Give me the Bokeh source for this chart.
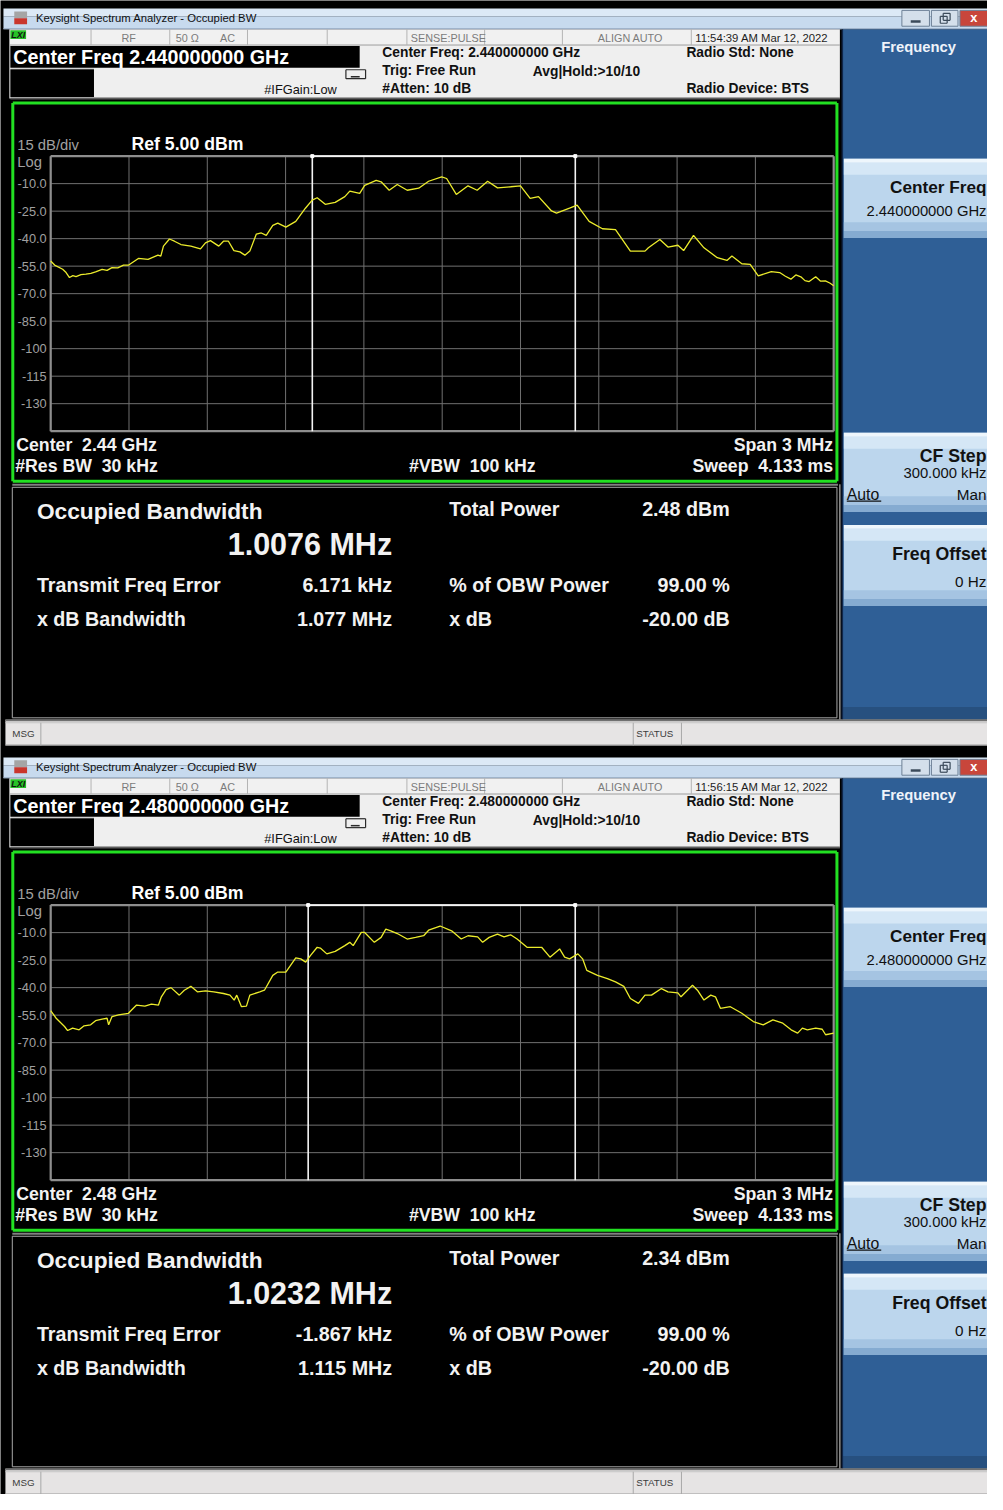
from bokeh.plotting import figure
from bokeh.models import Range1d, ColumnDataSource
from bokeh.core.properties import value, field
from bokeh.embed import file_html
from bokeh.resources import INLINE

# ------------------------------------------------------------------ data
center_freq_ghz = ["2.440000000", "2.480000000"]
center_short = ["2.44", "2.48"]
timestamps = ["11:54:39 AM Mar 12, 2022", "11:56:15 AM Mar 12, 2022"]
occupied_bw_text = ["1.0076", "1.0232"]
occupied_bw_mhz = [1.0076, 1.0232]
freq_error_khz = [6.171, -1.867]
xdb_bandwidth_mhz = ["1.077", "1.115"]
total_power_dbm = ["2.48", "2.34"]
obw_power_pct = "99.00"
x_db_value = "-20.00"
ref_level_dbm = 5.0
db_per_div = 15.0
span_mhz = 3.0
res_bw = "30 kHz"
vbw = "100 kHz"
sweep_time = "4.133 ms"
atten = "10 dB"
cf_step = "300.000 kHz"
freq_offset = "0 Hz"

amp_tick_values = [-10.0, -25.0, -40.0, -55.0, -70.0, -85.0, -100.0, -115.0, -130.0]
amp_tick_labels = ["-10.0", "-25.0", "-40.0", "-55.0", "-70.0", "-85.0", "-100", "-115", "-130"]
grid_db = [5.0, -10.0, -25.0, -40.0, -55.0, -70.0, -85.0, -100.0, -115.0, -130.0, -145.0]
grid_mhz = [-1.5, -1.2, -0.9, -0.6, -0.3, 0.0, 0.3, 0.6, 0.9, 1.2, 1.5]

# trace 1 (2.44 GHz): frequency offset from center [MHz], level [dBm]
freq1 = [-1.500, -1.485, -1.454, -1.441, -1.428, -1.415, -1.403, -1.384, -1.365, -1.346,
         -1.328, -1.303, -1.284, -1.265, -1.243, -1.221, -1.201, -1.164, -1.127, -1.089,
         -1.078, -1.068, -1.045, -1.026, -1.001, -0.963, -0.926, -0.907, -0.888, -0.856,
         -0.838, -0.819, -0.798, -0.775, -0.756, -0.737, -0.712, -0.693, -0.674, -0.649,
         -0.630, -0.599, -0.561, -0.524, -0.498, -0.479, -0.448, -0.410, -0.373, -0.354,
         -0.316, -0.297, -0.253, -0.234, -0.203, -0.172, -0.134, -0.090, -0.052, -0.002,
         0.017, 0.054, 0.099, 0.134, 0.174, 0.212, 0.262, 0.300, 0.337, 0.369,
         0.419, 0.438, 0.488, 0.517, 0.563, 0.614, 0.664, 0.721, 0.777, 0.790,
         0.834, 0.865, 0.903, 0.925, 0.963, 1.003, 1.054, 1.091, 1.110, 1.148,
         1.180, 1.211, 1.261, 1.293, 1.315, 1.336, 1.355, 1.374, 1.390, 1.406,
         1.431, 1.450, 1.468, 1.485, 1.500]
dbm1 = [-52.2, -54.4, -56.7, -58.5, -61.2, -60.2, -60.7, -59.6, -59.4, -58.9,
        -58.1, -56.7, -57.3, -55.8, -55.9, -54.4, -54.4, -50.8, -51.3, -49.0,
        -49.5, -44.1, -40.2, -41.4, -43.2, -44.1, -45.6, -42.3, -41.1, -44.1,
        -41.4, -41.4, -46.5, -47.2, -49.0, -46.8, -37.5, -36.9, -38.2, -32.8,
        -31.5, -33.7, -30.6, -23.4, -19.0, -17.7, -21.3, -20.2, -17.1, -14.1,
        -15.3, -10.9, -8.2, -9.0, -13.6, -10.5, -13.6, -12.5, -8.7, -6.3,
        -7.2, -15.9, -11.2, -13.6, -8.7, -12.3, -11.7, -11.2, -18.0, -17.1,
        -24.9, -26.1, -23.4, -21.7, -30.6, -34.6, -35.1, -46.8, -46.8, -45.0,
        -40.5, -44.6, -43.6, -46.5, -38.2, -45.0, -50.4, -51.9, -49.5, -53.7,
        -54.0, -60.3, -58.0, -58.5, -60.5, -62.1, -59.8, -60.8, -62.9, -63.4,
        -60.8, -63.2, -63.0, -64.2, -65.7]

# trace 2 (2.48 GHz)
freq2 = [-1.500, -1.479, -1.447, -1.435, -1.416, -1.391, -1.372, -1.347, -1.328, -1.303,
         -1.284, -1.278, -1.265, -1.240, -1.202, -1.190, -1.171, -1.139, -1.114, -1.087,
         -1.076, -1.058, -1.039, -1.007, -0.988, -0.963, -0.938, -0.907, -0.875, -0.838,
         -0.813, -0.797, -0.787, -0.769, -0.750, -0.737, -0.699, -0.681, -0.649, -0.630,
         -0.599, -0.561, -0.542, -0.523, -0.505, -0.479, -0.467, -0.442, -0.410, -0.373,
         -0.354, -0.341, -0.310, -0.297, -0.260, -0.234, -0.216, -0.197, -0.172, -0.134,
         -0.102, -0.071, -0.052, -0.008, 0.036, 0.073, 0.099, 0.136, 0.155, 0.180,
         0.212, 0.237, 0.262, 0.287, 0.325, 0.381, 0.413, 0.450, 0.469, 0.488,
         0.520, 0.538, 0.554, 0.595, 0.633, 0.664, 0.696, 0.721, 0.752, 0.777,
         0.802, 0.840, 0.865, 0.903, 0.915, 0.959, 0.978, 1.003, 1.029, 1.047,
         1.066, 1.104, 1.148, 1.192, 1.230, 1.267, 1.305, 1.337, 1.362, 1.380,
         1.399, 1.431, 1.456, 1.469, 1.500]
dbm2 = [-52.6, -56.7, -61.2, -63.4, -62.1, -63.0, -60.8, -60.3, -58.0, -57.2,
        -56.7, -60.3, -55.8, -54.9, -54.0, -52.2, -49.5, -50.1, -49.0, -49.5,
        -45.0, -41.1, -40.0, -44.1, -41.4, -39.3, -42.3, -41.8, -42.3, -43.2,
        -44.1, -46.8, -44.1, -50.4, -50.1, -44.1, -42.3, -41.4, -33.3, -31.5,
        -31.5, -23.8, -24.3, -26.1, -22.5, -18.0, -18.4, -21.6, -20.2, -17.1,
        -15.3, -17.1, -9.9, -9.9, -15.3, -12.6, -8.1, -9.0, -10.5, -13.5,
        -12.6, -11.7, -8.7, -6.4, -9.0, -13.5, -11.7, -12.3, -15.3, -12.6,
        -10.8, -12.3, -11.2, -13.5, -18.0, -18.0, -23.4, -18.9, -23.4, -24.3,
        -21.6, -24.3, -30.6, -33.3, -35.1, -36.9, -39.3, -45.9, -48.6, -44.1,
        -44.1, -40.5, -42.3, -42.9, -45.0, -38.7, -41.4, -46.8, -44.1, -45.0,
        -51.3, -50.4, -54.0, -58.5, -60.3, -57.6, -59.4, -63.0, -64.8, -62.1,
        -63.0, -62.1, -62.7, -65.7, -64.8]

traces = [(freq1, dbm1), (freq2, dbm2)]

# ------------------------------------------------------------------ layout (screen pixels of the screenshots)
PX0, PX1, PY0, PY1 = 0, 1003, 0, 1510
W, H = 987, 1494
FS = 0.985                                  # font scale for the slightly smaller canvas
GX0, GX1, GY0, GY1 = 51.0, 846.7, 157.3, 435.3   # graticule of the first screen
DY = 757                                   # second screenshot offset
FONT = value("Liberation Sans")
NB = "\u00a0"

p = figure(width=W, height=H,
           x_range=Range1d(PX0, PX1), y_range=Range1d(PY1, PY0),
           output_backend="svg", toolbar_location=None, min_border=0,
           x_axis_location=None, y_axis_location=None)
p.grid.visible = False
p.outline_line_color = None
p.background_fill_color = "#000000"
p.border_fill_color = "#000000"

px_per_mhz = (GX1 - GX0) / span_mhz
px_per_db = (GY1 - GY0) / (10 * db_per_div)
p.extra_x_ranges = {"f": Range1d(-span_mhz / 2 - (GX0 - PX0) / px_per_mhz,
                                 span_mhz / 2 + (PX1 - GX1) / px_per_mhz)}
yr = {}
for k in range(2):
    top = GY0 + k * DY
    yr[f"db{k}"] = Range1d(ref_level_dbm - (PY1 - top) / px_per_db,
                           ref_level_dbm + (top - PY0) / px_per_db)
p.extra_y_ranges = yr

Q = dict(l=[], r=[], t=[], b=[], c=[])
S = dict(x0=[], y0=[], x1=[], y1=[], c=[], w=[])
T = dict(x=[], y=[], t=[], size=[], style=[], color=[], align=[])


def box(l, r, t, b, c):
    Q["l"].append(l); Q["r"].append(r); Q["t"].append(t); Q["b"].append(b); Q["c"].append(c)


def seg(x0, y0, x1, y1, c, w=1.0):
    S["x0"].append(x0); S["y0"].append(y0); S["x1"].append(x1); S["y1"].append(y1)
    S["c"].append(c); S["w"].append(w)


def outline(l, r, t, b, c, w=1.0):
    seg(l, t, r, t, c, w); seg(l, b, r, b, c, w); seg(l, t, l, b, c, w); seg(r, t, r, b, c, w)


def txt(x, y, s, size, style="normal", color="#f2f2f2", align="left"):
    T["x"].append(x); T["y"].append(y); T["t"].append(s)
    T["size"].append(f"{size * FS:.1f}px")
    T["style"].append(style); T["color"].append(color); T["align"].append(align)


def chrome(k):
    d = k * DY
    # window title bar
    box(3, 1003, 8 + d, 16 + d, "#dce9f6")
    box(3, 1003, 16 + d, 29 + d, "#c7daee")
    seg(3, 28.5 + d, 1003, 28.5 + d, "#97abc2", 1)
    box(14, 27, 11 + d, 18 + d, "#a5a5a5")
    box(14, 27, 18 + d, 24 + d, "#c9362c")
    txt(36, 17.5 + d, "Keysight Spectrum Analyzer - Occupied BW", 11.5, color="#111111")
    for (l, r, c) in [(916, 944, "#d4dfeb"), (946, 973, "#d4dfeb"), (975, 1003, "#c8463b")]:
        box(l, r, 10 + d, 26 + d, c)
        outline(l, r, 10 + d, 26 + d, "#6d8096", 1)
    box(925, 935, 20 + d, 22.5 + d, "#3b4a5a")
    outline(955, 962, 16 + d, 23 + d, "#3b4a5a", 1.2)
    outline(958, 965, 13 + d, 20 + d, "#3b4a5a", 1.2)
    txt(989, 17.5 + d, "x", 13, "bold", "#ffffff", "center")

    # annunciator row
    box(9, 853, 29 + d, 45 + d, "#f1f1f1")
    seg(9, 45 + d, 853, 45 + d, "#9d9d9d", 1)
    for x in (92, 172, 251, 332, 413, 492, 571, 702):
        seg(x, 29 + d, x, 45 + d, "#b4b4b4", 1)
    box(10, 26, 30 + d, 39 + d, "#27c227")
    txt(11, 35 + d, "LXI", 9, "bold italic", "#111111")
    for x, s in [(123, "RF"), (178, "50 Ω"), (223, "AC"), (417, "SENSE:PULSE"), (607, "ALIGN AUTO")]:
        txt(x, 37.5 + d, s, 11, color="#7b7b7b")
    txt(706, 37.5 + d, timestamps[k], 11.5, color="#1e1e1e")

    # settings header
    box(9, 853, 45 + d, 99 + d, "#efefef")
    box(10, 365, 46 + d, 68 + d, "#000000")
    box(10, 95, 69.5 + d, 97.5 + d, "#000000")
    seg(10, 68.8 + d, 95, 68.8 + d, "#d0d0d0", 1)
    seg(10, 99 + d, 853, 99 + d, "#5c5c5c", 2)
    outline(351, 371, 70 + d, 79 + d, "#2a2a2a", 1.2)
    seg(356, 77 + d, 365, 77 + d, "#2a2a2a", 1.5)
    txt(13, 57.5 + d, f"Center Freq {center_freq_ghz[k]} GHz", 20, "bold", "#ffffff")
    txt(388, 53 + d, f"Center Freq: {center_freq_ghz[k]} GHz", 14, "bold", "#111111")
    txt(697, 53 + d, "Radio Std: None", 14, "bold", "#111111")
    txt(388, 71 + d, "Trig: Free Run", 14, "bold", "#111111")
    txt(541, 71.5 + d, "Avg|Hold:>10/10", 14, "bold", "#111111")
    txt(388, 88.5 + d, f"#Atten: {atten}", 14, "bold", "#111111")
    txt(697, 88.5 + d, "Radio Device: BTS", 14, "bold", "#111111")
    txt(268, 90 + d, "#IFGain:Low", 13, "normal", "#111111")

    # graph frame and annotations
    outline(12.5, 850, 103.5 + d, 486 + d, "#22e022", 3)
    txt(17, 146.5 + d, "15 dB/div", 15, color="#a0a0a0")
    txt(133, 145.5 + d, f"Ref {ref_level_dbm:.2f} dBm", 18, "bold", "#ffffff")
    txt(17, 163 + d, "Log", 15, color="#a0a0a0")
    txt(16, 449.5 + d, f"Center{NB}{NB}{center_short[k]} GHz", 18, "bold")
    txt(15, 470.5 + d, f"#Res BW{NB}{NB}{res_bw}", 18, "bold")
    txt(415, 470.5 + d, f"#VBW{NB}{NB}{vbw}", 18, "bold")
    txt(846, 449.5 + d, f"Span {span_mhz:g} MHz", 18, "bold", align="right")
    txt(846, 470.5 + d, f"Sweep{NB}{NB}{sweep_time}", 18, "bold", align="right")

    # result panel
    seg(12, 489.5 + d, 851, 489.5 + d, "#808080", 2)
    outline(12, 850, 492 + d, 725 + d, "#a8a8a8", 1)
    seg(853, 489 + d, 853, 727 + d, "#d8d8d8", 1)
    txt(37, 516 + d, "Occupied Bandwidth", 23, "bold")
    txt(398, 549.5 + d, f"{occupied_bw_text[k]} MHz", 31, "bold", align="right")
    txt(37, 591 + d, "Transmit Freq Error", 20, "bold")
    txt(398, 591 + d, f"{freq_error_khz[k]:.3f} kHz", 20, "bold", align="right")
    txt(37, 625.5 + d, "x dB Bandwidth", 20, "bold")
    txt(398, 625.5 + d, f"{xdb_bandwidth_mhz[k]} MHz", 20, "bold", align="right")
    txt(456, 514 + d, "Total Power", 20, "bold")
    txt(741, 514 + d, f"{total_power_dbm[k]} dBm", 20, "bold", align="right")
    txt(456, 591 + d, "% of OBW Power", 20, "bold")
    txt(741, 591 + d, f"{obw_power_pct} %", 20, "bold", align="right")
    txt(456, 625.5 + d, "x dB", 20, "bold")
    txt(741, 625.5 + d, f"{x_db_value} dB", 20, "bold", align="right")

    # softkey panel
    box(856, 1003, 29 + d, 727 + d, "#2f5f96")
    box(856, 1003, 714 + d, 727 + d, "#27507f")
    seg(855.5, 29 + d, 855.5, 727 + d, "#10264a", 1.5)
    txt(933, 46.5 + d, "Frequency", 15, "bold", "#eef3fa", "center")
    for (t, b) in [(160, 240), (437, 517), (530, 612)]:
        box(857, 1003, t + d, b + d, "#bcd6ed")
        box(857, 1003, t + d, t + 4 + d, "#eef6fc")
        box(857, 1003, t + 4 + d, t + 16 + d, "#d5e7f6")
        box(857, 1003, b - 16 + d, b - 7 + d, "#a5c4e2")
        box(857, 1003, b - 7 + d, b + d, "#85abd1")
    txt(1002, 188.5 + d, "Center Freq", 17.5, "bold", "#111111", "right")
    txt(1002, 212.5 + d, f"{center_freq_ghz[k]} GHz", 15, "normal", "#111111", "right")
    txt(1002, 460 + d, "CF Step", 18, "bold", "#111111", "right")
    txt(1002, 477.5 + d, cf_step, 15, "normal", "#111111", "right")
    txt(860, 499 + d, "Auto", 16, "normal", "#111111")
    seg(860, 506 + d, 895, 506 + d, "#111111", 1.2)
    txt(1002, 499 + d, "Man", 15.5, "normal", "#111111", "right")
    txt(1002, 559.5 + d, "Freq Offset", 18, "bold", "#111111", "right")
    txt(1002, 587 + d, freq_offset, 15.5, "normal", "#111111", "right")

    # message bar
    box(5, 1003, 727 + d, 753 + d, "#e6e4e4")
    seg(5, 727.5 + d, 1003, 727.5 + d, "#707070", 2)
    seg(5, 730 + d, 1003, 730 + d, "#c4c4c4", 1)
    seg(5, 752.5 + d, 1003, 752.5 + d, "#9a9a9a", 1)
    for x in (41, 643, 692):
        seg(x, 730 + d, x, 753 + d, "#a9a9a9", 1)
    txt(12, 741 + d, "MSG", 10, color="#3c3c3c")
    txt(646, 741 + d, "STATUS", 10, color="#3c3c3c")


for k in range(2):
    chrome(k)

p.quad(left="l", right="r", top="t", bottom="b", fill_color="c", line_color=None,
       source=ColumnDataSource(Q))
p.segment(x0="x0", y0="y0", x1="x1", y1="y1", line_color=field("c"), line_width=field("w"),
          source=ColumnDataSource(S))

# ------------------------------------------------------------------ spectrum graticules and traces
for k in range(2):
    rn = dict(x_range_name="f", y_range_name=f"db{k}")
    nh, nv = len(grid_db), len(grid_mhz)
    p.segment(x0=[grid_mhz[0]] * nh, x1=[grid_mhz[-1]] * nh, y0=grid_db, y1=grid_db,
              line_color="#707070", line_width=1, **rn)
    p.segment(x0=grid_mhz, x1=grid_mhz, y0=[grid_db[0]] * nv, y1=[grid_db[-1]] * nv,
              line_color="#707070", line_width=1, **rn)
    p.segment(x0=[grid_mhz[0], grid_mhz[0], grid_mhz[0], grid_mhz[-1]],
              x1=[grid_mhz[-1], grid_mhz[-1], grid_mhz[0], grid_mhz[-1]],
              y0=[grid_db[0], grid_db[-1], grid_db[0], grid_db[0]],
              y1=[grid_db[0], grid_db[-1], grid_db[-1], grid_db[-1]],
              line_color="#8e8e8e", line_width=2.2, **rn)
    fe = freq_error_khz[k] / 1000.0
    lo, hi = fe - occupied_bw_mhz[k] / 2, fe + occupied_bw_mhz[k] / 2
    p.segment(x0=[lo, hi, lo], x1=[lo, hi, hi],
              y0=[grid_db[0], grid_db[0], grid_db[0]],
              y1=[grid_db[-1], grid_db[-1], grid_db[0]],
              line_color="#f4f4f4", line_width=1.6, **rn)
    p.scatter(x=[lo, hi], y=[grid_db[0], grid_db[0]], marker="square", size=3,
              color="#ffffff", **rn)
    p.text(x=[grid_mhz[0]] * len(amp_tick_values), y=amp_tick_values, text=amp_tick_labels,
           x_offset=-4, text_align="right", text_baseline="middle", text_font=FONT,
           text_font_size=f"{13 * FS:.1f}px", text_color="#a0a0a0", **rn)
    fx, fy = traces[k]
    p.line(fx, fy, line_color="#ecec2c", line_width=1.3, **rn)

p.text(x="x", y="y", text="t", source=ColumnDataSource(T), text_font=FONT,
       text_font_size=field("size"), text_font_style=field("style"),
       text_color=field("color"), text_align=field("align"), text_baseline="middle")

open("out.html", "w").write(file_html(p, INLINE))
